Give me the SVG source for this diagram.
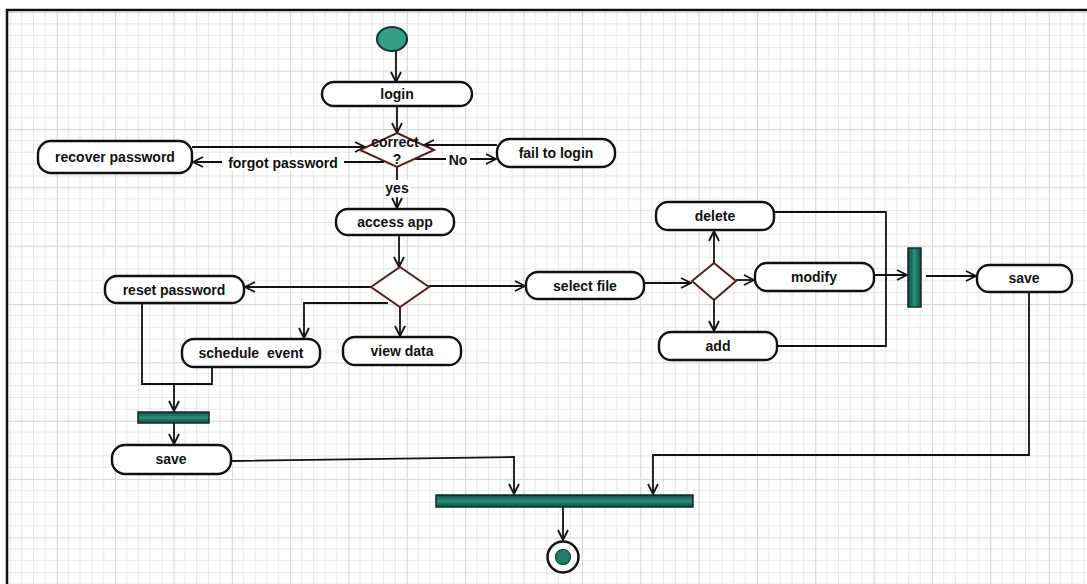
<svg xmlns="http://www.w3.org/2000/svg" width="1087" height="584" viewBox="0 0 1087 584">
  <style>
    .node rect.box { fill: #ffffff; stroke: #111111; stroke-width: 2.4; }
    .dec { fill: #ffffff; stroke: #5a1c1c; stroke-width: 2; }
    .bar { fill: url(#barFill); stroke: #0b2f28; stroke-width: 1.5; }
    .lbl { font-family: "Liberation Sans", Arial, sans-serif; font-size: 14px; font-weight: bold; fill: #111111; text-anchor: middle; }
    .edge { fill: none; stroke: #111111; stroke-width: 1.8; }
    .arrow { marker-end: url(#openArrow); }
    .tagbg { fill: #ffffff; }
  </style>
  <defs>
    <pattern id="grid" x="-1.6" y="12.3" width="58.35" height="58.35" patternUnits="userSpaceOnUse">
      <path d="M11.67 0V58.35M23.34 0V58.35M35.01 0V58.35M46.68 0V58.35M0 11.67H58.35M0 23.34H58.35M0 35.01H58.35M0 46.68H58.35" stroke="#e6e6e6" stroke-width="1" fill="none"/>
      <path d="M0.5 0V58.35M0 0.5H58.35" stroke="#d4d4d4" stroke-width="1" fill="none"/>
    </pattern>
    <linearGradient id="barFill" x1="0" y1="0" x2="0" y2="1">
      <stop offset="0" stop-color="#0f4a3e"/>
      <stop offset="0.5" stop-color="#2a8f78"/>
      <stop offset="1" stop-color="#0f4a3e"/>
    </linearGradient>
    <linearGradient id="barFillV" x1="0" y1="0" x2="1" y2="0">
      <stop offset="0" stop-color="#0f4a3e"/>
      <stop offset="0.5" stop-color="#2a8f78"/>
      <stop offset="1" stop-color="#0f4a3e"/>
    </linearGradient>
    <marker id="openArrow" viewBox="0 0 12 12" refX="11" refY="6" markerWidth="12" markerHeight="12" markerUnits="userSpaceOnUse" orient="auto">
      <path d="M1 1L11 6L1 11" fill="none" stroke="#111111" stroke-width="1.8"/>
    </marker>
  </defs>

  <!-- sheet, grid and frame -->
  <rect x="0" y="0" width="1087" height="584" fill="#ffffff"/>
  <rect x="7" y="10" width="1080" height="574" fill="url(#grid)"/>
  <path d="M7 584V10H1087" fill="none" stroke="#111111" stroke-width="2.5"/>

  <!-- connectors -->
  <g id="connectors">
    <path class="edge arrow" d="M396 51V82"/>
    <path class="edge arrow" d="M397 106V133"/>
    <path class="edge arrow" d="M384 162H193"/>
    <path class="edge arrow" d="M192 147H365"/>
    <path class="edge arrow" d="M415 159H496"/>
    <path class="edge arrow" d="M497 145H424"/>
    <path class="edge arrow" d="M397 167V208"/>
    <path class="edge arrow" d="M399 235V267"/>
    <path class="edge arrow" d="M371 287H245"/>
    <path class="edge arrow" d="M429 286H525"/>
    <path class="edge arrow" d="M388 303H304V338"/>
    <path class="edge arrow" d="M400 307V336"/>
    <path class="edge" d="M142 303V384H212V367"/>
    <path class="edge arrow" d="M174 384V411"/>
    <path class="edge arrow" d="M174 423V444"/>
    <path class="edge arrow" d="M231 461L514 457V494"/>
    <path class="edge arrow" d="M644 283H691"/>
    <path class="edge arrow" d="M714 263V231"/>
    <path class="edge arrow" d="M714 300V331"/>
    <path class="edge arrow" d="M736 280H754"/>
    <path class="edge" d="M774 212H886V346H777"/>
    <path class="edge arrow" d="M874 275H907"/>
    <path class="edge arrow" d="M926 276H976"/>
    <path class="edge arrow" d="M1029 292V455H653V494"/>
    <path class="edge arrow" d="M563 507V540"/>
    <!-- guard labels on edges -->
    <rect class="tagbg" x="222" y="154" width="122" height="17"/>
    <text class="lbl" x="283" y="168">forgot password</text>
    <rect class="tagbg" x="446" y="151" width="24" height="17"/>
    <text class="lbl" x="458" y="165">No</text>
    <rect class="tagbg" x="384" y="180" width="27" height="17"/>
    <text class="lbl" x="397" y="193">yes</text>
  </g>

  <!-- initial node -->
  <g id="start">
    <ellipse cx="392" cy="39" rx="15" ry="12" fill="#35a088" stroke="#0d3b31" stroke-width="2.2"/>
  </g>

  <g id="login" class="node">
    <rect class="box" x="322" y="82" width="150" height="24" rx="12"/>
    <text class="lbl" x="397" y="99">login</text>
  </g>

  <g id="check-login">
    <path class="dec" d="M397 133L434 150L397 167L360 150Z"/>
    <text class="lbl" x="395" y="147">correct</text>
    <text class="lbl" x="397" y="164">?</text>
  </g>

  <g id="recover-password" class="node">
    <rect class="box" x="38" y="141" width="154" height="32" rx="13"/>
    <text class="lbl" x="115" y="162">recover password</text>
  </g>

  <g id="fail-to-login" class="node">
    <rect class="box" x="497" y="139" width="118" height="28" rx="13"/>
    <text class="lbl" x="556" y="158">fail to login</text>
  </g>

  <g id="access-app" class="node">
    <rect class="box" x="336" y="209" width="118" height="26" rx="12"/>
    <text class="lbl" x="395" y="227">access app</text>
  </g>

  <g id="choose-action">
    <path class="dec" d="M400 267L429 287L400 307L371 287Z"/>
  </g>

  <g id="reset-password" class="node">
    <rect class="box" x="105" y="276" width="139" height="27" rx="12"/>
    <text class="lbl" x="174" y="295">reset password</text>
  </g>

  <g id="schedule-event" class="node">
    <rect class="box" x="182" y="339" width="138" height="28" rx="12"/>
    <text class="lbl" x="251" y="358" xml:space="preserve">schedule  event</text>
  </g>

  <g id="view-data" class="node">
    <rect class="box" x="343" y="337" width="118" height="28" rx="12"/>
    <text class="lbl" x="402" y="356">view data</text>
  </g>

  <g id="join-account">
    <rect class="bar" x="138" y="412" width="71" height="11"/>
  </g>

  <g id="save-account" class="node">
    <rect class="box" x="112" y="445" width="119" height="29" rx="13"/>
    <text class="lbl" x="171" y="464">save</text>
  </g>

  <g id="select-file" class="node">
    <rect class="box" x="526" y="272" width="118" height="27" rx="12"/>
    <text class="lbl" x="585" y="291">select file</text>
  </g>

  <g id="choose-edit">
    <path class="dec" d="M714 263L736 281L714 300L692 281Z"/>
  </g>

  <g id="delete" class="node">
    <rect class="box" x="656" y="202" width="118" height="28" rx="12"/>
    <text class="lbl" x="715" y="221">delete</text>
  </g>

  <g id="modify" class="node">
    <rect class="box" x="755" y="263" width="119" height="28" rx="12"/>
    <text class="lbl" x="814" y="282">modify</text>
  </g>

  <g id="add" class="node">
    <rect class="box" x="659" y="332" width="118" height="28" rx="12"/>
    <text class="lbl" x="718" y="351">add</text>
  </g>

  <g id="join-edit">
    <rect class="bar" x="908" y="248" width="13" height="59" style="fill:url(#barFillV)"/>
  </g>

  <g id="save-file" class="node">
    <rect class="box" x="977" y="265" width="95" height="27" rx="12"/>
    <text class="lbl" x="1024" y="283">save</text>
  </g>

  <g id="join-final">
    <rect class="bar" x="436" y="495" width="257" height="12"/>
  </g>

  <!-- final node -->
  <g id="end">
    <circle cx="563" cy="557" r="15.5" fill="#ffffff" stroke="#111111" stroke-width="2.5"/>
    <circle cx="563" cy="557" r="7.5" fill="#1f7f6a" stroke="#0d3b31" stroke-width="1.2"/>
  </g>
</svg>
